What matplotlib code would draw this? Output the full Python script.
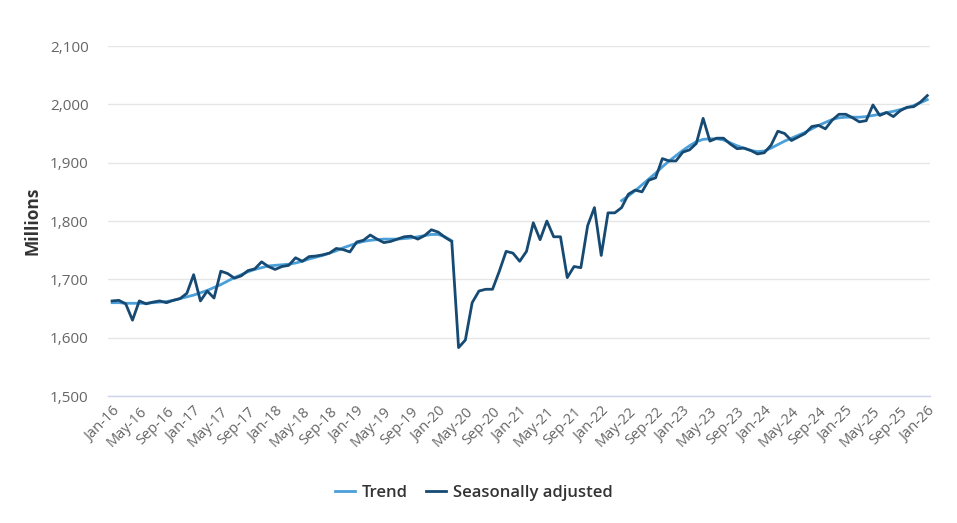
import matplotlib
matplotlib.use("Agg")
import matplotlib.pyplot as plt
import numpy as np
import pandas as pd

plt.rcParams['font.family'] = ['Open Sans', 'DejaVu Sans']

months = pd.date_range("2016-01-01", "2026-01-01", freq="MS")
month_labels = [d.strftime("%b-%y") for d in months]

seasonally_adjusted = [
    1663, 1664, 1658, 1630, 1663, 1658, 1661, 1663, 1660, 1664, 1667, 1676,
    1708, 1663, 1680, 1668, 1714, 1710, 1702, 1706, 1715, 1718, 1730, 1722,
    1717, 1722, 1724, 1737, 1731, 1739, 1740, 1742, 1745, 1753, 1751, 1747,
    1764, 1767, 1776, 1769, 1763, 1765, 1769, 1773, 1774, 1769, 1775, 1785,
    1781, 1772, 1765, 1583, 1596, 1660, 1680, 1683, 1683, 1714, 1748, 1745,
    1731, 1748, 1797, 1768, 1800, 1773, 1773, 1703, 1722, 1720, 1792, 1823,
    1741, 1814, 1814, 1823, 1846, 1853, 1850, 1870, 1874, 1907, 1903, 1903,
    1918, 1922, 1933, 1976, 1937, 1942, 1942, 1932, 1924, 1925, 1921, 1915,
    1917, 1930, 1954, 1950, 1938, 1944, 1950, 1962, 1964, 1958, 1973, 1983,
    1983, 1977, 1970, 1972, 1999, 1981, 1986, 1979, 1989, 1995, 1996, 2004,
    2015,
]

trend_pre = [
    1660, 1660, 1659, 1659, 1659, 1659, 1660, 1661, 1662, 1664, 1667, 1670,
    1673, 1677, 1681, 1686, 1691, 1697, 1703, 1708, 1713, 1717, 1720, 1723,
    1724, 1725, 1726, 1728, 1731, 1735, 1738, 1741, 1745, 1749, 1754, 1758,
    1762, 1765, 1767, 1768, 1769, 1769, 1769, 1770, 1771, 1773, 1775, 1777,
    1777, 1773, 1766,
]
trend_gap_months = 24
trend_post = [
    1835, 1843, 1852, 1862, 1872, 1882, 1893, 1903, 1912,
    1921, 1929, 1936, 1940, 1941, 1941, 1939, 1934, 1929, 1925, 1921, 1919,
    1920, 1925, 1931, 1937, 1942, 1947, 1952, 1958, 1964, 1969, 1974, 1977,
    1978, 1978, 1978, 1979, 1981, 1983, 1986, 1988, 1991, 1994, 1998, 2003,
    2008,
]
trend = trend_pre + [np.nan] * trend_gap_months + trend_post

y_ticks = [1500, 1600, 1700, 1800, 1900, 2000, 2100]

trend_color = '#4A9FD8'
sa_color = '#164A73'

fig = plt.figure(figsize=(9.57, 5.23), dpi=100)
ax = fig.add_axes([0.1129, 0.2428, 0.8589, 0.6692])

x = np.arange(len(months))
ax.plot(x, trend, color=trend_color, lw=2.0, label='Trend', zorder=3)
ax.plot(x, seasonally_adjusted, color=sa_color, lw=2.0, label='Seasonally adjusted', zorder=4)

ax.set_ylim(1500, 2100)
ax.set_xlim(-0.6, 120.4)
ax.set_yticks(y_ticks)
ax.set_yticklabels([f"{v:,}" for v in y_ticks])
ax.yaxis.grid(True, color='#e6e6e6', lw=1)
ax.set_axisbelow(True)

tick_idx = list(range(0, len(months), 4))
ax.set_xticks(tick_idx)
ax.set_xticklabels([month_labels[i] for i in tick_idx], rotation=45, ha='right',
                   rotation_mode='anchor', fontsize=10.5, color='#666666')
ax.tick_params(axis='x', length=0, pad=6)
ax.tick_params(axis='y', length=0, pad=14, labelsize=11, labelcolor='#666666')

for s in ['top', 'right', 'left']:
    ax.spines[s].set_visible(False)
ax.spines['bottom'].set_color('#ccd6eb')
ax.spines['bottom'].set_linewidth(1)

ax.set_ylabel('Millions', fontsize=12.5, fontweight='bold', color='#333333', labelpad=6)

leg = fig.legend(loc='center', bbox_to_anchor=(0.495, 0.058), ncol=2, frameon=False,
                 fontsize=12, handlelength=1.2, columnspacing=1.1, handletextpad=0.4)
for t in leg.get_texts():
    t.set_color('#333333')
    t.set_fontweight('semibold')

fig.savefig('out.png', dpi=100)
